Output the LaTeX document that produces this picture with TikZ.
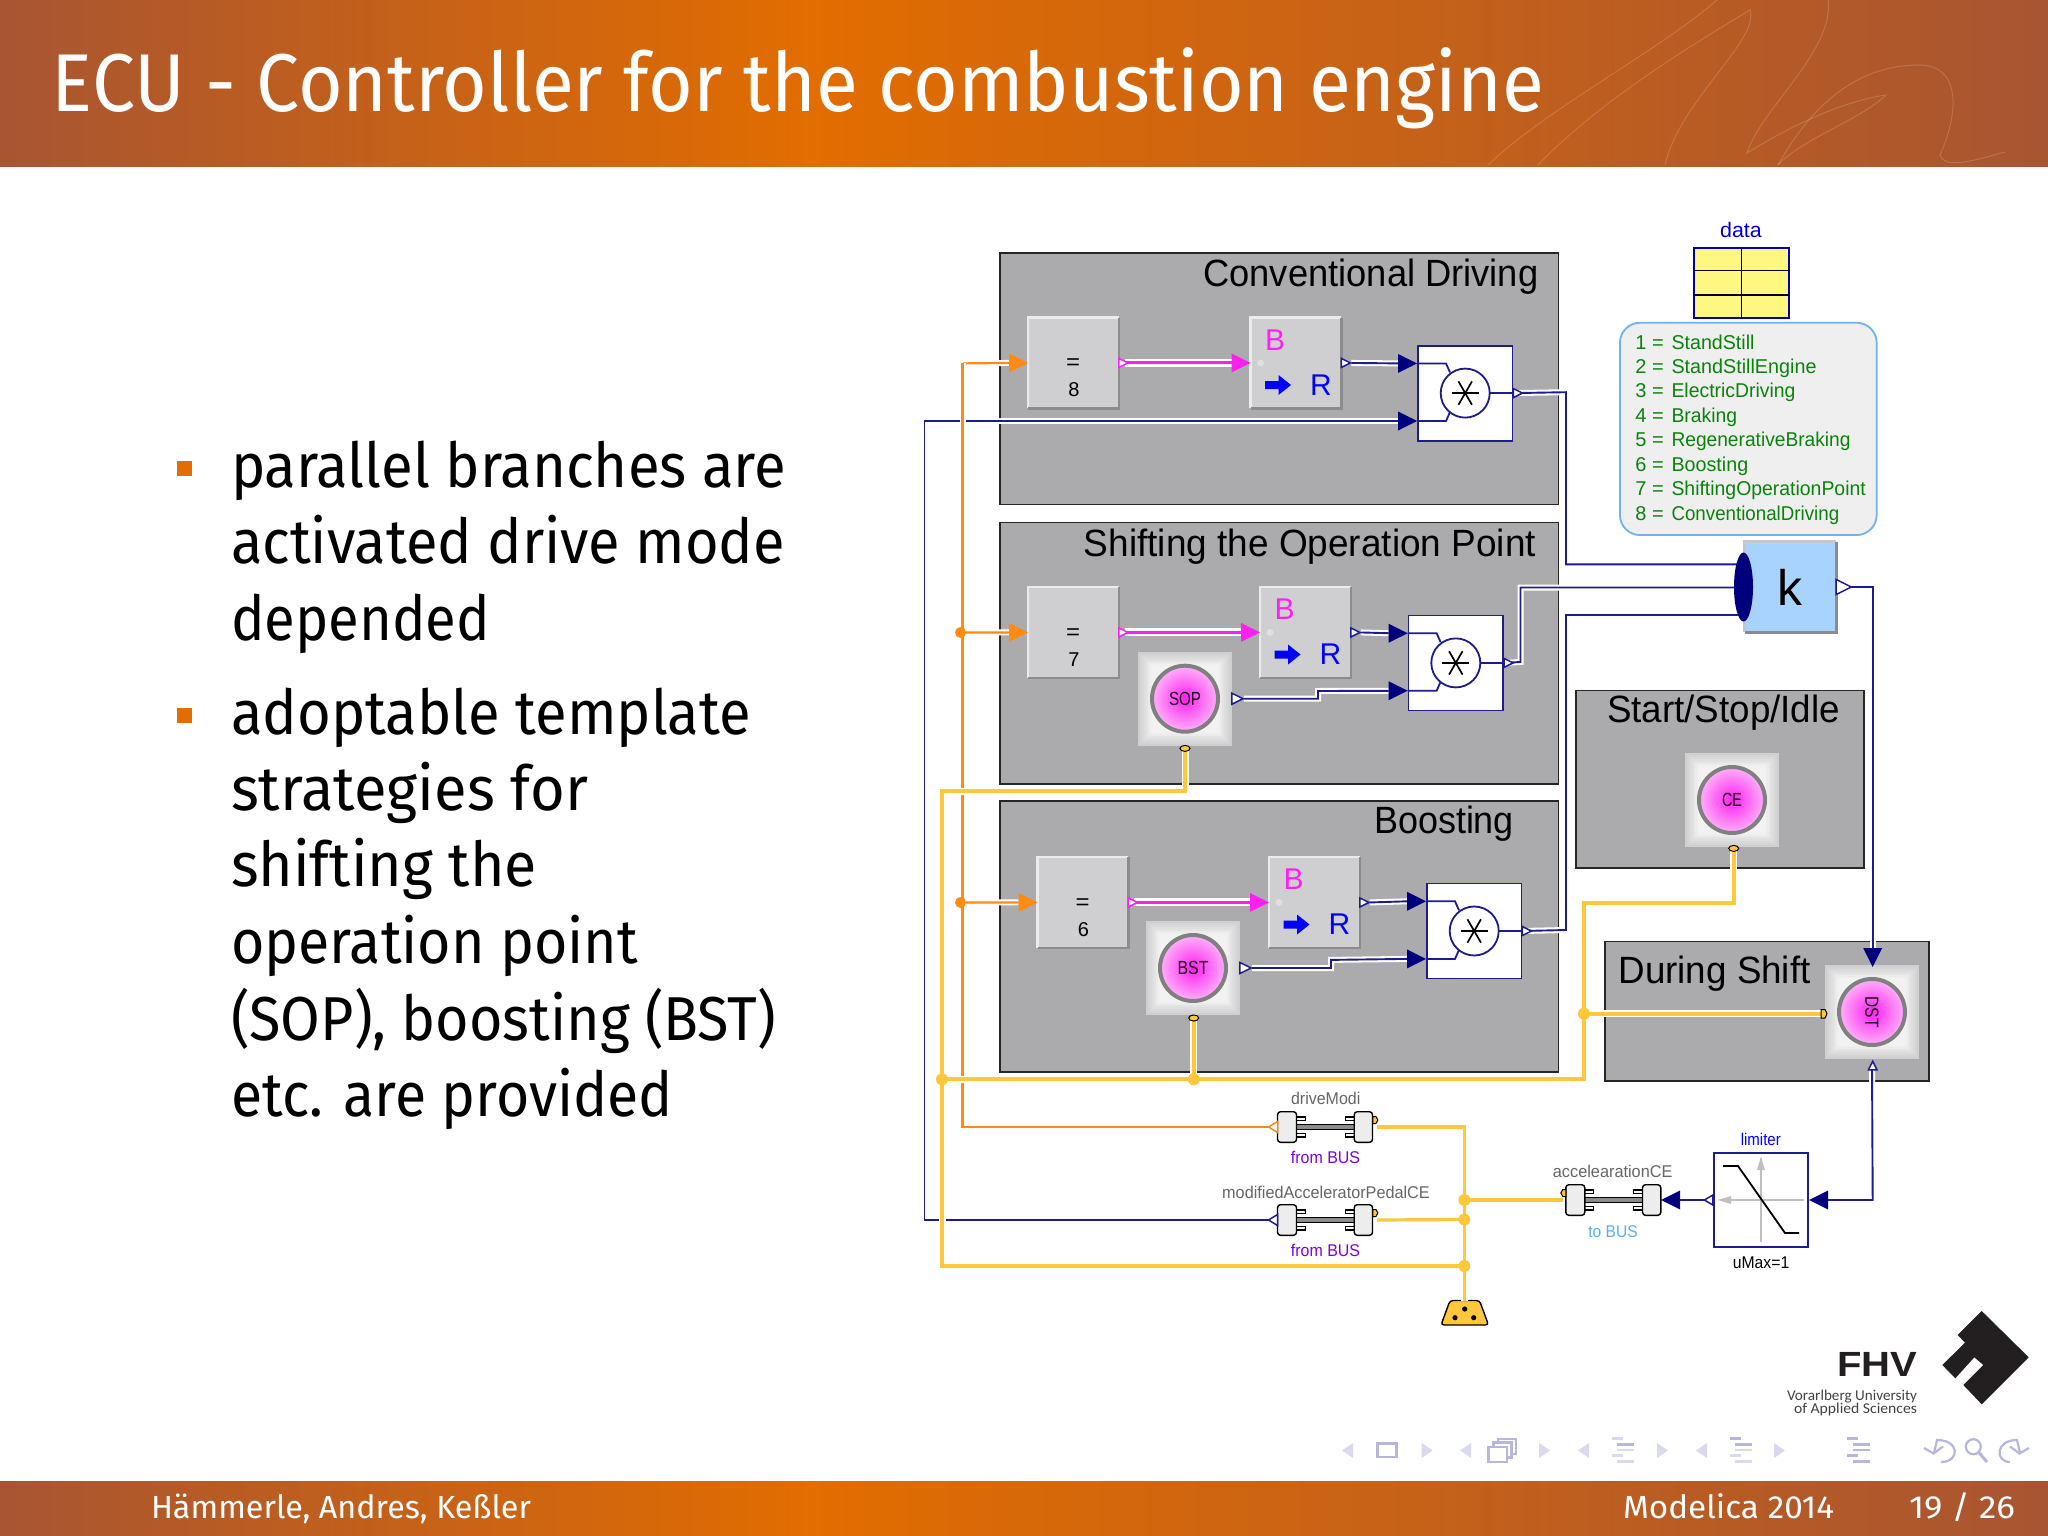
\documentclass[tikz,border=0pt]{standalone}
\usepackage{graphicx}
\usepackage{fontspec}
\setmainfont{Liberation Sans}
\newfontfamily\slidefont[Ligatures=NoCommon]{Fira Sans}
\newfontfamily\logofont{Carlito}
\usetikzlibrary{calc,shapes.geometric}
\definecolor{hbrown}{HTML}{A85532}
\definecolor{horange}{HTML}{E26D00}
\definecolor{boxgray}{HTML}{ABABAD}
\definecolor{blockgray}{HTML}{CFCFD1}
\definecolor{wblue}{HTML}{1C1C8C}
\definecolor{navy}{HTML}{00007F}
\definecolor{wmag}{HTML}{FF20F0}
\definecolor{worange}{HTML}{FF8A14}
\definecolor{wyellow}{HTML}{FFC83C}
\definecolor{navlight}{HTML}{DADAEE}
\definecolor{navdark}{HTML}{B7B7DE}
\definecolor{legfill}{HTML}{EFEFF0}
\definecolor{legline}{HTML}{6FB2EE}
\definecolor{leggreen}{HTML}{0B820B}
\definecolor{lgray}{HTML}{666666}
\definecolor{tobus}{HTML}{5AAEF5}
\definecolor{frombus}{HTML}{8000E0}
\definecolor{kblue}{HTML}{A9D3FF}
\definecolor{logo}{HTML}{231F20}
\newcommand\tw[3]{\resizebox{#1pt}{\height}{\fontsize{#2pt}{#2pt}\selectfont #3}}
\tikzset{
 lbl/.style={inner sep=0,outer sep=0,anchor=base},
 lblw/.style={inner sep=0,outer sep=0,anchor=base west},
 lble/.style={inner sep=0,outer sep=0,anchor=base east},
 slidetxt/.style={lblw,font=\slidefont,text=black},
 foot/.style={lblw,font=\slidefont,text=white},
 regionbox/.style={draw=black!85,line width=1.6,fill=boxgray,inner sep=0,anchor=north west},
 grayblock/.style={fill=blockgray,inner sep=0,anchor=north west,minimum width=90.5,minimum height=90.5},
 prodb/.style={draw=wblue,line width=1.8,fill=white,inner sep=0,anchor=north west,minimum width=94.6,minimum height=95},
 halo/.style={preaction={draw=white,line width=#1}},
 wireb/.style={draw=wblue,line width=1.9,line join=miter,halo=6},
 wirem/.style={draw=wmag,line width=3,halo=8},
 wireo/.style={draw=worange,line width=2.2,halo=6},
 wirey/.style={draw=wyellow,line width=4,halo=7},
 glowsq/.style={inner sep=0,minimum width=93.5,minimum height=93.5},
 disc/.style={circle,inner sep=0,minimum size=66,draw=black!50,line width=4,inner color=wmag,outer color=wmag!35!white,text=black!90!wmag},
 busblock/.style={draw=black,line width=1.4,fill=black!7,rounded corners=3},
 navtri/.style={fill=navlight},
 navline/.style={draw=navdark,line width=2.2},
}
\newcommand\tipf[4]{\fill[#2,shift={(#1)},rotate=#3] (-#4,-#4/2) -- (0,0) -- (-#4,#4/2) -- cycle;}
\newcommand\tipo[5]{\filldraw[fill=white,draw=#2,line width=1.5,shift={(#1)},rotate=#3] (0,-#5/2) -- (#4,0) -- (0,#5/2) -- cycle;}
\newcommand\bevel[1]{%
 \draw[white!92!black,line width=2.2] (#1.south west) -- (#1.north west) -- (#1.north east);
 \draw[black!45,line width=2.2] (#1.north east) -- (#1.south east) -- (#1.south west);}
\newcommand\eqblock[4]{%
 \node[grayblock] (#1) at (#2,#3) {};
 \bevel{#1}
 \node[inner sep=0] (#1-e) at ($(#1.north west)+(45,47)$) {\tw{14}{22}{=}};
 \node[lbl] (#1-n) at ($(#1.north west)+(46,79)$) {\fontsize{20pt}{20pt}\selectfont #4};}
\newcommand\brblock[3]{%
 \node[grayblock] (#1) at (#2,#3) {};
 \bevel{#1}
 \node[lbl,text=wmag] (#1-B) at ($(#1.north west)+(24.5,32.5)$) {\fontsize{30pt}{30pt}\selectfont B};
 \node[lbl,text=blue] (#1-R) at ($(#1.north west)+(70.5,77.5)$) {\fontsize{30pt}{30pt}\selectfont R};
 \fill[white!88!black] ($(#1.north west)+(10,45.5)$) circle (3.5);
 \fill[blue,shift={(#1.north west)}] (14.5,63.5) -- (28,63.5) -- (28,57.5) -- (40.5,67.5) -- (28,77.5) -- (28,71.5) -- (14.5,71.5) -- cycle;}
\newcommand\prodblock[3]{%
 \node[prodb] (#1) at (#2,#3) {};
 \coordinate (#1-a) at ($(#1.north west)+(0,18.7)$);
 \coordinate (#1-b) at ($(#1.north west)+(0,76.3)$);
 \draw[draw=wblue,line width=1.8] (#1-a) -- ++(29,0) -- ++(4,9);
 \draw[draw=wblue,line width=1.8] (#1-b) -- ++(29,0) -- ++(4,-9);
 \draw[draw=wblue,line width=1.8] (#1.center) -- (#1.east);
 \node[circle,draw=wblue,line width=1.8,fill=white,inner sep=0,minimum size=49] (#1-c) at (#1.center) {};
 \foreach \a in {0,60,120} \draw[black,line width=1.7,shift={(#1.center)},rotate=\a] (-13.5,0) -- (13.5,0);}
\newcommand\glowb[6]{%
 \node[glowsq] (#1) at (#2,#3) {};
 \foreach \s/\c in {0/19,2/17,4/15,6/13,8/11,10/8,12/6,14/5}
  \fill[black!\c] ($(#1.south west)+(\s,-\s)$) rectangle ($(#1.north east)+(-\s,\s)$);
 \node[disc] (#1-d) at (#1) {\rotatebox{#5}{\tw{#6}{19}{#4}}};}
\newcommand\busconn[3]{%
 \node[inner sep=0,minimum width=95,minimum height=30.6] (#1) at (#2+47.5,#3) {};
 \begin{scope}[shift={(#1.west)}]
 \fill[black!45] (19,-2.2) rectangle (76.7,2.2);
 \draw[black,line width=1.2] (19,-2.6) -- (76.7,-2.6) (19,2.6) -- (76.7,2.6);
 \draw[black,line width=1.2,fill=white] (19,-10) rectangle (28,-6.5) (19,6.5) rectangle (28,10) (67.7,-10) rectangle (76.7,-6.5) (67.7,6.5) rectangle (76.7,10);
 \draw[busblock] (0,-15.3) rectangle (19,15.3);
 \draw[busblock] (76.7,-15.3) rectangle (95,15.3);
 \end{scope}}
\newcommand\yport[2]{\filldraw[fill=wyellow,draw=black,line width=1] (#1) ellipse [x radius=#2,y radius=3];}
\newcommand\navbars[6]{%
 \fill[#3] (#1,#2) rectangle ++(11,2.5);
 \fill[#4] (#1+5.5,#2+6) rectangle ++(17,3);
 \fill[#5] (#1+5.5,#2+11.5) rectangle ++(17,2.5);
 \fill[#6] (#1,#2+17) rectangle ++(11,2.5);
 \fill[#5] (#1+5.5,#2+22.5) rectangle ++(17,3);}
\begin{document}
\begin{tikzpicture}[x=1pt,y=-1pt]
\useasboundingbox (0,0) rectangle (2048,1536);
\fill[white] (0,0) rectangle (2048,1536);
% header and footer bands
\shade[left color=hbrown,right color=horange] (0,0) rectangle (811,166);
\shade[left color=horange,right color=hbrown] (810,0) rectangle (2048,166);
\shade[left color=hbrown,right color=horange] (0,1481) rectangle (811,1536);
\shade[left color=horange,right color=hbrown] (810,1481) rectangle (2048,1536);
\begin{scope}[draw=white,draw opacity=.16,line width=1]
 \draw (1488,165) .. controls (1545,110) and (1660,50) .. (1717,0);
 \draw (1538,165) .. controls (1600,100) and (1700,40) .. (1750,10) .. controls (1760,40) and (1680,100) .. (1665,165);
 \draw (1828,0) .. controls (1835,50) and (1760,110) .. (1747,153) .. controls (1800,120) and (1850,100) .. (1886,95) .. controls (1860,120) and (1800,140) .. (1778,165);
 \draw (1778,165) .. controls (1820,90) and (1870,65) .. (1919,65) .. controls (1960,65) and (1960,110) .. (1940,155) .. controls (1945,170) and (1975,160) .. (2005,152);
\end{scope}
\node[foot] (title) at (52,111) {\tw{1492}{82}{ECU - Controller for the combustion engine}};
\node[foot] (authors) at (151,1518) {\tw{380}{32}{Hämmerle, Andres, Keßler}};
\node[foot] (conf) at (1623,1518) {\tw{211}{32}{Modelica 2014}};
\node[foot] (pageno) at (1909,1518) {\tw{106}{32}{19 / 26}};
% body
\fill[horange] (177,461) rectangle (192,476);
\fill[horange] (177,708) rectangle (192,723);
\node[slidetxt] (b1) at (231,487) {\tw{555}{62}{parallel branches are}};
\node[slidetxt] (b2) at (231,563.5) {\tw{554}{62}{activated drive mode}};
\node[slidetxt] (b3) at (231,640) {\tw{259}{62}{depended}};
\node[slidetxt] (b4) at (231,734) {\tw{520}{62}{adoptable template}};
\node[slidetxt] (b5) at (231,810) {\tw{357}{62}{strategies for}};
\node[slidetxt] (b6) at (231,886) {\tw{306}{62}{shifting the}};
\node[slidetxt] (b7) at (231,963) {\tw{407}{62}{operation point}};
\node[slidetxt] (b8) at (231,1040) {\tw{545}{62}{(SOP), boosting (BST)}};
\node[slidetxt] (b9) at (231,1116) {\tw{442}{62}{etc. are provided}};
% regions
\node[regionbox,minimum width=558.6,minimum height=251.5] (rconv) at (999,252) {};
\node[regionbox,minimum width=558.6,minimum height=261.5] (rsop) at (999,521.5) {};
\node[regionbox,minimum width=558.6,minimum height=271] (rbst) at (999,800) {};
\node[regionbox,minimum width=288,minimum height=177.4] (rss) at (1575,689.6) {};
\node[regionbox,minimum width=324,minimum height=139.4] (rds) at (1604,940.6) {};
\node[lble] (tconv) at (1538.4,286) {\tw{335}{38}{Conventional Driving}};
\node[lble] (tsop) at (1536,556) {\tw{452}{38}{Shifting the Operation Point}};
\node[lble] (tbst) at (1514,833.6) {\tw{140}{38}{Boosting}};
\node[lblw] (tss) at (1607,722) {\tw{233}{38}{Start/Stop/Idle}};
\node[lblw] (tds) at (1618.6,983) {\tw{192}{38}{During Shift}};
% blocks
\eqblock{eqa}{1028}{317.5}{8}
\brblock{bra}{1250.5}{317.5}
\prodblock{pra}{1417}{344.7}
\eqblock{eqb}{1028}{587}{7}
\brblock{brb}{1260}{587}
\prodblock{prb}{1407.6}{614.5}
\eqblock{eqc}{1037.5}{857}{6}
\brblock{brc}{1269}{857}
\prodblock{prc}{1426}{882.6}
\glowb{sop}{1185}{698.7}{SOP}{0}{32}
\glowb{bst}{1193}{968}{BST}{0}{31}
\glowb{ce}{1732}{800}{CE}{0}{20}
\glowb{dst}{1872}{1012}{DST}{-90}{31}
% data table
\node[lbl,text=blue!85!black] (dlab) at (1741,237.7) {\tw{41.7}{21}{data}};
\node[draw=blue!70!black,line width=2,fill=yellow!50,inner sep=0,minimum width=94.7,minimum height=70.3] (dtab) at (1741.7,282.9) {};
\draw[black,line width=1.5] (dtab.north) -- (dtab.south);
\draw[black,line width=1.5] (dtab.north west |- 0,270.7) -- (dtab.north east |- 0,270.7);
\draw[black,line width=1.5] (dtab.north west |- 0,295) -- (dtab.north east |- 0,295);
% legend
\node[draw=legline,line width=1.8,fill=legfill,rounded corners=20,inner sep=0,minimum width=256.7,minimum height=212.3] (leg) at (1748.3,428.9) {};
\begin{scope}[text=leggreen]
\foreach \n/\t/\w in {1/StandStill/83,2/StandStillEngine/145,3/ElectricDriving/124,4/Braking/65.7,5/RegenerativeBraking/179,6/Boosting/76.7,7/ShiftingOperationPoint/194.3,8/ConventionalDriving/167.7}{
 \node[lbl] (legn\n) at (1641,{349+(\n-1)*24.45}) {\fontsize{20pt}{20pt}\selectfont\n};
 \node[lbl] (lege\n) at (1658,{349+(\n-1)*24.45}) {\fontsize{20pt}{20pt}\selectfont=};
 \node[lblw] (legt\n) at (1671.5,{349+(\n-1)*24.45}) {\tw{\w}{20}{\t}};
}
\end{scope}
% limiter
\node[draw=wblue,line width=1.8,fill=white,inner sep=0,minimum width=94.5,minimum height=94] (lim) at (1761,1200) {};
\draw[black!25,line width=1.6] (1761,1158) -- (1761,1242);
\draw[black!25,line width=1.6] (1722,1200) -- (1804,1200);
\fill[black!25] (1761,1157) -- (1765,1170) -- (1757,1170) -- cycle;
\fill[black!25] (1718,1200) -- (1731,1196) -- (1731,1204) -- cycle;
\draw[black,line width=1.8] (1723,1166) -- (1738,1166) -- (1785,1233) -- (1799,1233);
\node[lbl,text=blue] (limlab) at (1760.8,1145) {\tw{40}{17}{limiter}};
\node[lbl] (limpar) at (1761,1268) {\tw{56.5}{17}{uMax=1}};
% bus connectors
\busconn{cona}{1277.7}{1127}
\busconn{conb}{1277.7}{1220}
\busconn{conc}{1566}{1200}
\node[lbl,text=lgray] (conat) at (1325.7,1104.3) {\tw{69.3}{17}{driveModi}};
\node[lbl,text=frombus] (conaf) at (1325.5,1163) {\tw{69.3}{17}{from BUS}};
\node[lbl,text=lgray] (conbt) at (1326,1198) {\tw{207.6}{17}{modifiedAcceleratorPedalCE}};
\node[lbl,text=frombus] (conbf) at (1325.5,1256.5) {\tw{69.3}{17}{from BUS}};
\node[lbl,text=lgray] (conct) at (1612.7,1177.5) {\tw{119.6}{17}{accelearationCE}};
\node[lbl,text=tobus] (concf) at (1613,1237) {\tw{49.5}{17}{to BUS}};
% socket
\coordinate (sock) at (1464.5,1300.5);
\filldraw[fill=wyellow,draw=black,line width=1.4,rounded corners=3] (1450,1300.5) -- (1479.5,1300.5) -- (1488.5,1325) -- (1441,1325) -- cycle;
\fill[black] (1464.7,1309) circle (2.6) (1455,1317.7) circle (2.6) (1473.7,1317.7) circle (2.6);
% route points
\coordinate (ka) at (1745,564.3);
\coordinate (kc) at (1745,615);
\coordinate (bv) at (924.5,421);
\coordinate (oa) at (962.5,363.4);
\coordinate (ob) at (962.5,632.5);
\coordinate (oc) at (962.5,902.5);
\coordinate (ytop) at (942.4,791);
\coordinate (ymain) at (942.4,1079.3);
\coordinate (yjoin) at (1193.7,1079.3);
\coordinate (yr) at (1584.4,1079.3);
\coordinate (yce) at (1584.4,903);
\coordinate (yds) at (1584.4,1013.7);
\coordinate (ybus) at (1464.3,1266);
\coordinate (ybusb) at (1464.3,1219.5);
\coordinate (ybusc) at (1464.3,1200);
% blue wires
\draw[wireb] (pra.east) -- (1566,392.2) |- (ka);
\draw[wireb] (prb.east) -- (1520.5,662) |- (1735,587.5);
\draw[wireb] (prc.east) -- (1566,930) |- (kc);
\draw[wireb] ($(conb.west)+(-9,0)$) -| (bv) -- ([xshift=-19]pra-b);
\draw[wireb] (1845,587) -- (1872.7,587) -- (1872.7,948);
\draw[wireb] ($(dst.south)+(0,8)$) -- (1872.7,1200) -- ([xshift=19]lim.east);
\draw[wireb] ([xshift=-8]lim.west) -- ([xshift=19]conc.east);
\draw[wireb] ([xshift=10]bra.east) -- ([xshift=-19]pra-a);
\draw[wireb] ([xshift=10]brb.east) -- ([xshift=-19]prb-a);
\draw[wireb] ([xshift=10]brc.east) -- ([xshift=-19]prc-a);
\draw[wireb] ([xshift=12]sop.east) -- (1318,698.7) -- (1318,691) -- ([xshift=-19]prb-b);
\draw[wireb] ([xshift=12]bst.east) -- (1331,968) -- (1331,959.9) -- ([xshift=-19]prc-b);
% k block, over the ends of its input wires
\node[fill=kblue,inner sep=0,minimum width=91,minimum height=90] (kb) at (1790.5,587) {};
\draw[black!22,line width=3] (kb.south west) -- (kb.north west) -- (kb.north east);
\draw[black!45,line width=3] (kb.north east) -- (kb.south east) -- (kb.south west);
\node[lbl] (ktxt) at (1790,605) {\fontsize{50pt}{50pt}\selectfont k};
\node[ellipse,fill=navy,inner sep=0,minimum width=19,minimum height=69] (kin) at (1743.5,587) {};
% magenta wires
\draw[wirem] ([xshift=6]eqa.east) -- ([xshift=-19]bra.west);
\draw[wirem] ([xshift=6]eqb.east) -- ([xshift=-19]brb.west);
\draw[wirem] ([xshift=6]eqc.east) -- ([xshift=-19]brc.west);
% orange wires
\draw[wireo] (oa) -- ([xshift=-19]eqa.west);
\draw[wireo] (ob) -- ([xshift=-19]eqb.west);
\draw[wireo] (oc) -- ([xshift=-19]eqc.west);
\draw[wireo] ($(cona.west)+(-9,0)$) -| (oa);
% yellow wires
\draw[wirey] (1185,750) |- (ytop) -- (ybus -| ytop) -- (ybus);
\draw[wirey] (ymain) -- (yr) -- (yce) -| (1733.7,850);
\draw[wirey] (1193.7,1020) -- (yjoin);
\draw[wirey] (yds) -- (1822,1013.7);
\draw[wirey,line width=3.2] ([xshift=4]cona.east) -| (sock);
\draw[wirey,line width=3.2] ([xshift=4]conb.east) -- (ybusb);
\draw[wirey,line width=3.2] ([xshift=-3]conc.west) -- (ybusc);
% arrow heads and ports
\tipf{pra-a}{navy}{0}{19}
\tipf{pra-b}{navy}{0}{19}
\tipf{prb-a}{navy}{0}{19}
\tipf{prb-b}{navy}{0}{19}
\tipf{prc-a}{navy}{0}{19}
\tipf{prc-b}{navy}{0}{19}
\tipf{bra.west}{wmag}{0}{19}
\tipf{brb.west}{wmag}{0}{19}
\tipf{brc.west}{wmag}{0}{19}
\tipf{eqa.west}{worange}{0}{19}
\tipf{eqb.west}{worange}{0}{19}
\tipf{eqc.west}{worange}{0}{19}
\tipf{1872.7,967}{navy}{-90}{19}
\tipf{lim.east}{navy}{180}{19}
\tipf{conc.east}{navy}{180}{19}
\tipo{eqa.east}{wmag}{0}{9}{9}
\tipo{eqb.east}{wmag}{0}{9}{9}
\tipo{eqc.east}{wmag}{0}{9}{9}
\tipo{bra.east}{wblue}{0}{9}{9}
\tipo{brb.east}{wblue}{0}{9}{9}
\tipo{brc.east}{wblue}{0}{9}{9}
\tipo{pra.east}{wblue}{0}{9}{9}
\tipo{prb.east}{wblue}{0}{9}{9}
\tipo{prc.east}{wblue}{0}{9}{9}
\tipo{sop.east}{wblue}{0}{11}{11}
\tipo{bst.east}{wblue}{0}{11}{11}
\tipo{kb.east}{wblue}{0}{15}{15}
\tipo{lim.west}{wblue}{180}{8.5}{10}
\tipo{1872.7,1069.8}{wblue}{90}{8.5}{8.5}
\tipo{cona.west}{worange}{180}{9}{11}
\tipo{conb.west}{wblue}{180}{9}{11}
\yport{1185,748.4}{5}
\yport{1193.7,1018}{5}
\yport{1733.7,848.4}{5}
\filldraw[fill=wyellow,draw=black,line width=1] (1821,1009.5) -- (1825,1009.5) -- (1827,1013.7) -- (1825,1018) -- (1821,1018) -- cycle;
\filldraw[fill=wyellow,draw=black,line width=1] ([xshift=0,yshift=3.5]cona.east) -- ++(3,0) -- ++(2,-3.5) -- ++(-2,-3.5) -- ++(-3,0) -- cycle;
\filldraw[fill=wyellow,draw=black,line width=1] ([xshift=0,yshift=3.5]conb.east) -- ++(3,0) -- ++(2,-3.5) -- ++(-2,-3.5) -- ++(-3,0) -- cycle;
\filldraw[fill=wyellow,draw=black,line width=1] ([xshift=0,yshift=3.5]conc.west) -- ++(-3,0) -- ++(-2,-3.5) -- ++(2,-3.5) -- ++(3,0) -- cycle;
% junction dots
\fill[worange] (960.5,632.5) circle (5.5) (960.5,902.5) circle (5.5);
\fill[wyellow] (942,1079.3) circle (6) (1193.7,1079.3) circle (6) (1584,1013.7) circle (6) (ybusc) circle (6) (ybusb) circle (6) (ybus) circle (6);
% logo
\fill[logo] (1981.7,1311) -- (2028.7,1357.3) -- (1981.7,1404.3) -- (1963.3,1385) -- (1983.3,1365) -- (1974.3,1357.3) -- (1955.3,1378.3) -- (1942.3,1365) -- (1965,1342.7) -- (1957.7,1335) -- cycle;
\node[lble,text=logo] (fhv) at (1917.5,1376.7) {\tw{80}{35}{\bfseries FHV}};
\node[lble,text=logo!85] (fhva) at (1917,1400) {\tw{130}{15}{\logofont Vorarlberg University}};
\node[lble,text=logo!85] (fhvb) at (1917,1413) {\tw{123}{15}{\logofont of Applied Sciences}};
% navigation symbols
\foreach \x in {1353,1471,1589,1707}
 \fill[navtri] (\x,1443) -- (\x-11,1450.5) -- (\x,1458) -- cycle;
\foreach \x in {1421.6,1539,1657,1774}
 \fill[navtri] (\x,1443) -- (\x+11,1450.5) -- (\x,1458) -- cycle;
\draw[navline] (1377.5,1443.5) rectangle (1396.5,1457);
\draw[navline,fill=white] (1498,1439) rectangle (1516,1454);
\draw[navline,fill=white] (1493.5,1442.5) rectangle (1511.5,1457.5);
\draw[navline,fill=white] (1488.5,1447) rectangle (1507,1462);
\navbars{1611.6}{1437}{navlight}{navdark}{navlight}{navlight}
\navbars{1729.5}{1437}{navdark}{navdark}{navlight}{navlight}
\navbars{1847}{1437}{navdark}{navdark}{navdark}{navdark}
\draw[navline] (1934,1453) -- (1937,1440) .. controls (1960,1440) and (1960,1462) .. (1941,1462);
\draw[navline] (1924,1448) -- (1933.5,1453.5) -- (1943,1446.5);
\draw[navline] (1973.3,1446.7) circle (7.5);
\draw[navline,line width=3] (1978.5,1452) -- (1987,1462);
\draw[navline] (2020,1453) -- (2017,1440) .. controls (1995,1440) and (1995,1462) .. (2010,1462);
\draw[navline] (2010,1446.5) -- (2019.5,1453.5) -- (2029,1448);
\end{tikzpicture}
\end{document}
